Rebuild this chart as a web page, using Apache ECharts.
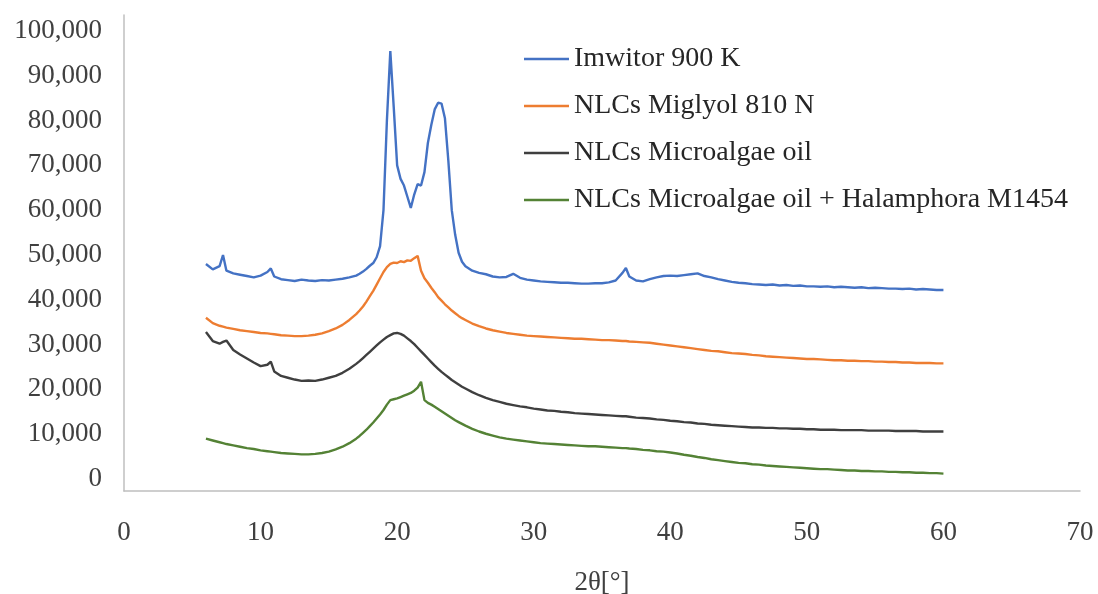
<!DOCTYPE html>
<html lang="en">
<head>
    <meta charset="UTF-8">
    <title>XRD</title>
    <script src="https://cdn.jsdelivr.net/npm/echarts@6/dist/echarts.min.js"></script>
    <style>
        body { margin: 0; background: #fff; }
    </style>
</head>
<body>
 <div id="myChart" style="width: 1098px;height: 594px;"></div>
 <script>
     // 2θ positions (degrees), shared by all four patterns
     var twoTheta = [
         6, 6.5, 7, 7.25, 7.5, 8, 8.5, 9, 9.5, 10, 10.5, 10.75, 11, 11.5, 12, 12.5, 13, 13.5, 14, 14.5,
         15, 15.5, 16, 16.5, 17, 17.25, 17.5, 17.75, 18, 18.25, 18.5, 18.75, 19, 19.25, 19.5, 19.75,
         20, 20.25, 20.5, 20.75, 21, 21.25, 21.5, 21.75, 22, 22.25, 22.5, 22.75, 23, 23.25, 23.5, 23.75,
         24, 24.25, 24.5, 24.75, 25, 25.5, 26, 26.5, 27, 27.5, 28, 28.5, 29, 29.5, 30, 30.5, 31, 31.5,
         32, 32.5, 33, 33.5, 34, 34.5, 35, 35.5, 36, 36.5, 36.75, 37, 37.5, 38, 38.5, 39, 39.5, 40, 40.5,
         41, 41.5, 42, 42.5, 43, 43.5, 44, 44.5, 45, 45.5, 46, 46.5, 47, 47.5, 48, 48.5, 49, 49.5, 50,
         50.5, 51, 51.5, 52, 52.5, 53, 53.5, 54, 54.5, 55, 55.5, 56, 56.5, 57, 57.5, 58, 58.5, 59, 59.5, 60
     ];

     var imwitor = [
         48000, 46800, 47500, 50000, 46500, 45900, 45600, 45300, 45000, 45400, 46200, 47000, 45200, 44600, 44400, 44200, 44500, 44300, 44200, 44400,
         44300, 44500, 44700, 45000, 45400, 45800, 46300, 46900, 47600, 48200, 49500, 52000, 60000, 80000, 95500, 83000,
         70000, 67000, 65500, 63000, 60500, 63500, 65800, 65500, 68500, 75000, 79000, 82500, 84000, 83800, 80500, 71000,
         60000, 54500, 50500, 48500, 47500, 46500, 46000, 45700, 45200, 45000, 45100, 45800, 44900, 44500, 44300, 44100, 44000, 43900,
         43800, 43800, 43700, 43600, 43600, 43700, 43700, 43900, 44300, 46000, 47100, 45200, 44300, 44100, 44600, 45000, 45300, 45400, 45300,
         45500, 45700, 45900, 45300, 45000, 44600, 44300, 44000, 43800, 43700, 43500, 43400, 43300, 43400, 43200, 43300, 43100, 43200, 43000,
         43000, 42900, 43000, 42800, 42900, 42800, 42700, 42800, 42600, 42700, 42600, 42500, 42500, 42400, 42500, 42300, 42400, 42300, 42200, 42200
     ];

     var miglyol = [
         36000, 34800, 34200, 34000, 33800, 33500, 33200, 33000, 32800, 32600, 32500, 32400, 32300, 32100, 32000, 31900, 31900, 32000, 32200, 32500,
         33000, 33600, 34400, 35500, 36800, 37600, 38500, 39600, 40800, 42000, 43400, 44800, 46200, 47300, 48000, 48300,
         48200, 48600, 48400, 48800, 48700, 49300, 49800, 46500, 44800, 43800, 42700, 41700, 40600, 39800, 39000, 38300,
         37600, 37000, 36400, 35900, 35500, 34700, 34100, 33600, 33200, 32900, 32600, 32400, 32200, 32000, 31900, 31800, 31700, 31600,
         31500, 31400, 31300, 31300, 31200, 31100, 31000, 31000, 30900, 30800, 30800, 30700, 30600, 30500, 30400, 30200, 30000, 29800, 29600,
         29400, 29200, 29000, 28800, 28600, 28500, 28300, 28100, 28000, 27900, 27700, 27600, 27400, 27300, 27200, 27100, 27000, 26900, 26800,
         26800, 26700, 26600, 26500, 26500, 26400, 26400, 26300, 26300, 26200, 26200, 26100, 26100, 26000, 26000, 25900, 25900, 25900, 25800, 25800
     ];

     var microalgae = [
         32800, 30800, 30200, 30600, 30900, 28800, 27800, 26900, 26000, 25200, 25500, 26200, 24000, 23000, 22600, 22200, 21900, 22000, 21900, 22200,
         22600, 23000, 23700, 24600, 25700, 26300, 27000, 27700, 28400, 29100, 29800, 30500, 31100, 31700, 32100, 32500,
         32600, 32400, 32000, 31400, 30800, 30100, 29300, 28500, 27700, 26900, 26100, 25300, 24600, 23900, 23300, 22700,
         22100, 21600, 21100, 20600, 20200, 19400, 18700, 18100, 17600, 17200, 16800, 16500, 16200, 16000, 15700, 15500, 15300, 15200,
         15000, 14900, 14700, 14600, 14500, 14400, 14300, 14200, 14100, 14000, 14000, 13900, 13700, 13600, 13500, 13300, 13200, 13000, 12900,
         12700, 12600, 12400, 12300, 12100, 12000, 11900, 11800, 11700, 11600, 11500, 11500, 11400, 11400, 11300, 11300, 11200, 11200, 11100,
         11100, 11000, 11000, 11000, 10900, 10900, 10900, 10900, 10800, 10800, 10800, 10800, 10700, 10700, 10700, 10700, 10600, 10600, 10600, 10600
     ];

     var halamphora = [
         9000, 8600, 8200, 8000, 7800, 7500, 7200, 6900, 6700, 6400, 6200, 6100, 6000, 5800, 5700, 5600, 5500, 5500, 5600, 5800,
         6100, 6600, 7200, 8000, 9000, 9600, 10300, 11000, 11800, 12600, 13500, 14400, 15400, 16600, 17600, 17800,
         18000, 18300, 18600, 18900, 19200, 19700, 20400, 21700, 17600, 17000, 16600, 16100, 15600, 15100, 14600, 14100,
         13600, 13100, 12700, 12300, 11900, 11200, 10600, 10100, 9700, 9300, 9000, 8800, 8600, 8400, 8200, 8000, 7900, 7800,
         7700, 7600, 7500, 7400, 7300, 7300, 7200, 7100, 7000, 6900, 6900, 6800, 6700, 6500, 6400, 6200, 6100, 5900, 5700,
         5400, 5200, 4900, 4700, 4400, 4200, 4000, 3800, 3600, 3500, 3300, 3200, 3000, 2900, 2800, 2700, 2600, 2500, 2400,
         2300, 2200, 2200, 2100, 2000, 1900, 1900, 1800, 1800, 1700, 1700, 1600, 1600, 1500, 1500, 1400, 1400, 1300, 1300, 1200
     ];

     var seriesNames = ['Imwitor 900 K', 'NLCs Miglyol 810 N', 'NLCs Microalgae oil', 'NLCs Microalgae oil + Halamphora M1454'];
     var seriesColors = ['#4472C4', '#ED7D31', '#3F3F3F', '#548235'];
     var seriesValues = [imwitor, miglyol, microalgae, halamphora];
     var yTicks = [0, 10000, 20000, 30000, 40000, 50000, 60000, 70000, 80000, 90000, 100000];

     var fontFam = '"Liberation Serif", serif';

     function pairs(values) {
         return twoTheta.map(function (t, i) { return [t, values[i]]; });
     }

     var series = seriesNames.map(function (name, i) {
         return {
             name: name,
             type: 'line',
             data: pairs(seriesValues[i]),
             symbol: 'none',
             lineStyle: { width: 2.4, color: seriesColors[i] },
             itemStyle: { color: seriesColors[i] }
         };
     });

     option = {
         animation: false,
         backgroundColor: '#fff',
         grid: { left: 124, top: 15, right: 18, bottom: 103, outerBoundsMode: 'none' },
         legend: {
             orient: 'vertical',
             left: 519,
             top: 40,
             icon: 'rect',
             itemWidth: 45,
             itemHeight: 2.5,
             itemGap: 19,
             data: seriesNames,
             textStyle: { fontFamily: fontFam, fontSize: 28, color: '#262626', lineHeight: 28 }
         },
         xAxis: {
             type: 'value',
             min: 0,
             max: 70,
             interval: 10,
             name: '2θ[°]',
             nameLocation: 'middle',
             nameGap: 78,
             nameTextStyle: { fontFamily: fontFam, fontSize: 27, color: '#404040' },
             axisLine: { onZero: false, lineStyle: { color: '#BFBFBF', width: 1.5 } },
             axisTick: { show: false },
             splitLine: { show: false },
             axisLabel: { margin: 28, fontFamily: fontFam, fontSize: 27, color: '#404040' }
         },
         yAxis: {
             type: 'value',
             min: -2680,
             max: 103570,
             axisLine: { show: true, lineStyle: { color: '#BFBFBF', width: 1.5 } },
             axisTick: { show: false },
             splitLine: { show: false },
             axisLabel: {
                 customValues: yTicks,
                 margin: 22,
                 fontFamily: fontFam,
                 fontSize: 27,
                 color: '#404040',
                 formatter: function (v) { return v.toLocaleString('en-US'); }
             }
         },
         series: series
     };

     var myChart = echarts.init(document.getElementById('myChart'));
     myChart.setOption(option);
 </script>
</body>
</html>
